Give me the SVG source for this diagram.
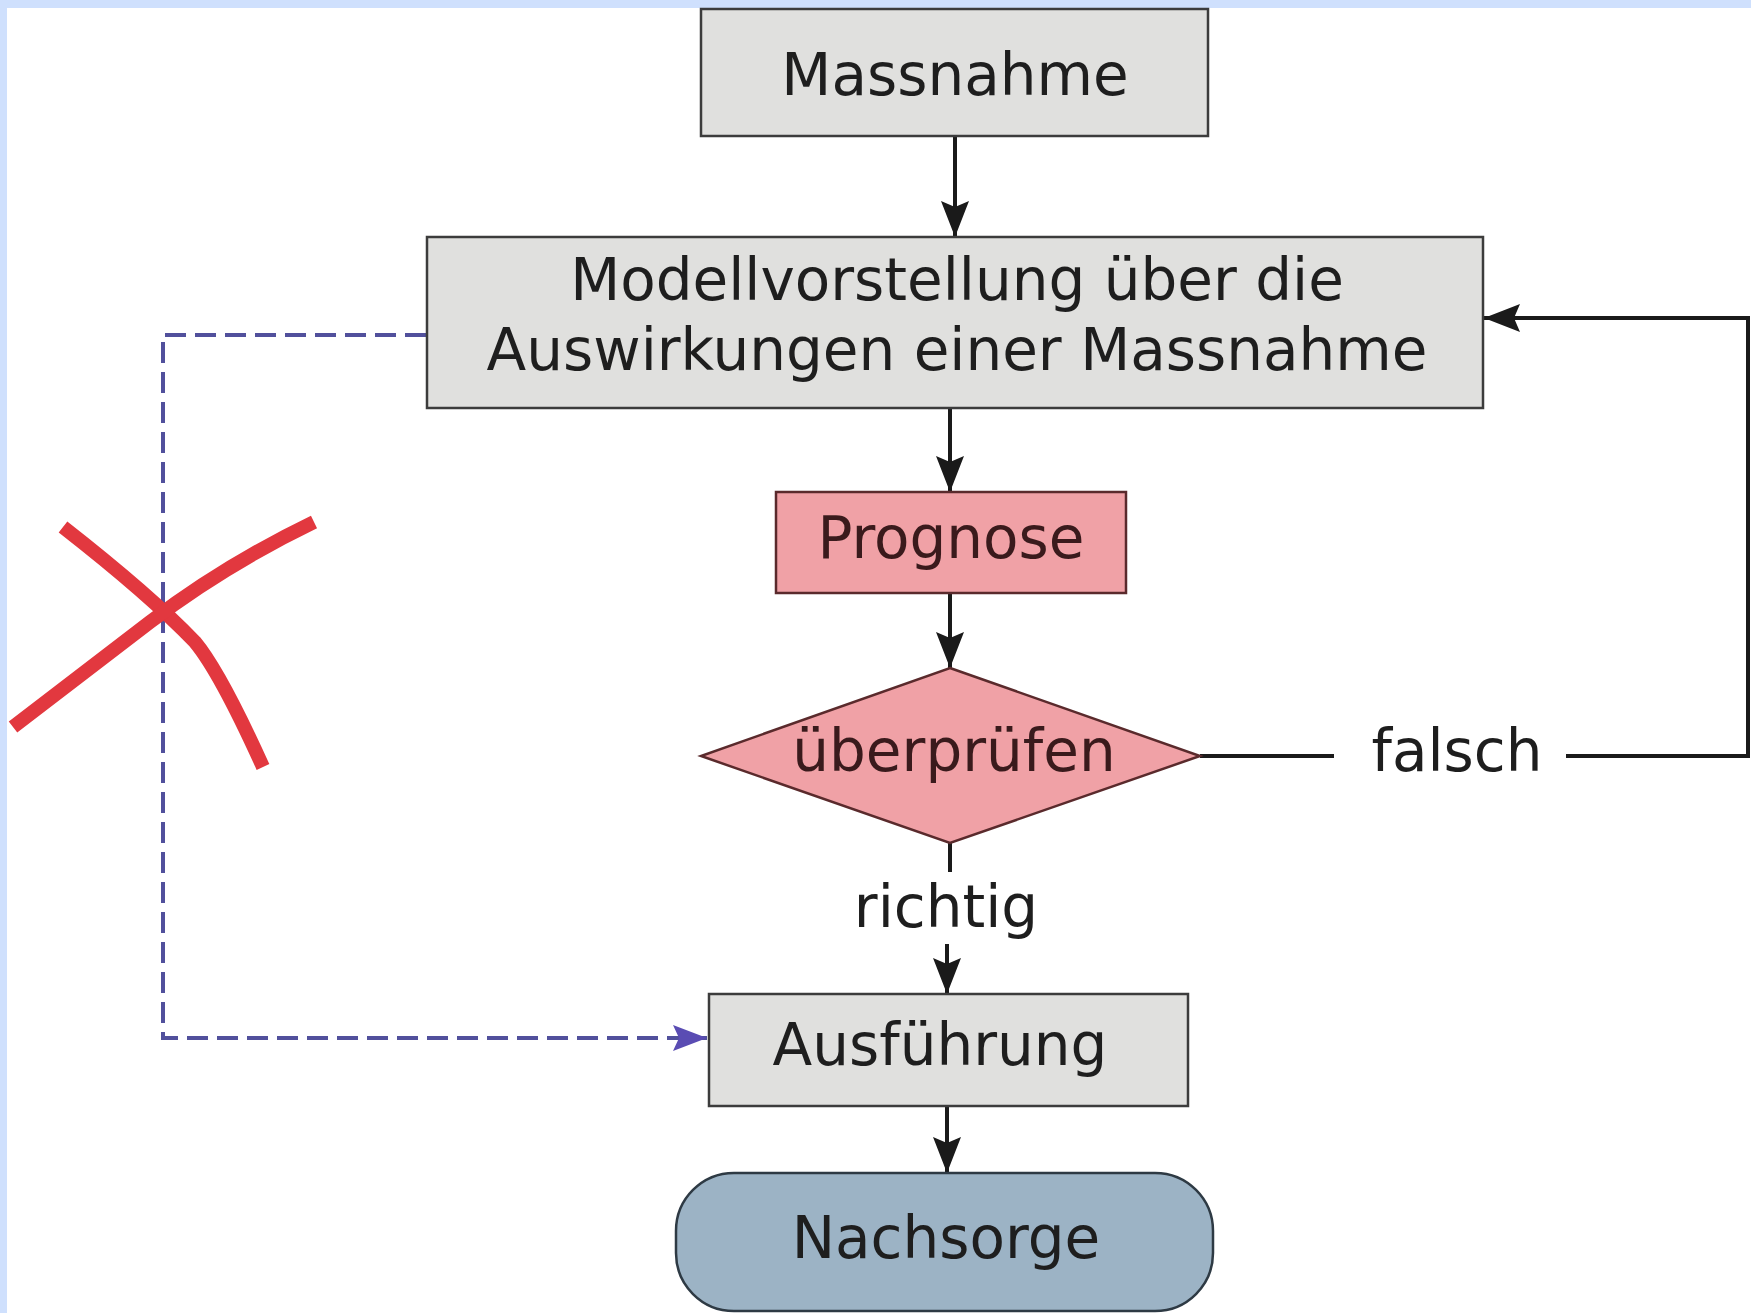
<svg xmlns="http://www.w3.org/2000/svg" width="1751" height="1313" viewBox="0 0 1751 1313">
  <style>
    text { font-family: "DejaVu Sans", "Liberation Sans", sans-serif; font-size: 58px; text-anchor: middle; fill: #1e1e1e; }
    .gray { fill: #e0e0de; stroke: #3c3c3c; stroke-width: 2.5; }
    .pink { fill: #f0a1a6; stroke: #5a2a2c; stroke-width: 2.5; }
    .blue { fill: #9cb3c5; stroke: #2e3a44; stroke-width: 2.5; }
    .pinktext { fill: #3a1a1c; }
    .conn { fill: none; stroke: #1a1a1a; stroke-width: 4; }
    .dash { fill: none; stroke: #51509c; stroke-width: 4; stroke-dasharray: 21 9; }
    .cross { fill: none; stroke: #e2383f; stroke-width: 14; }
  </style>
  <defs>
    <marker id="ah" markerUnits="userSpaceOnUse" markerWidth="38" markerHeight="30" refX="36" refY="14" orient="auto">
      <path d="M0,0 L36,14 L0,28 L6,14 z" fill="#1a1a1a"/>
    </marker>
    <marker id="ahp" markerUnits="userSpaceOnUse" markerWidth="38" markerHeight="30" refX="34" refY="13" orient="auto">
      <path d="M0,0 L34,13 L0,26 L6,13 z" fill="#5a4cb3"/>
    </marker>
  </defs>

  <rect x="0" y="0" width="1751" height="1313" fill="#ffffff"/>
  <rect x="0" y="0" width="1751" height="8" fill="#cfe0fd"/>
  <rect x="0" y="0" width="7" height="1313" fill="#cfe0fd"/>

  <g id="connectors">
    <line class="conn" x1="955" y1="136" x2="955" y2="237" marker-end="url(#ah)"/>
    <line class="conn" x1="950" y1="408" x2="950" y2="492" marker-end="url(#ah)"/>
    <line class="conn" x1="950" y1="593" x2="950" y2="668" marker-end="url(#ah)"/>
    <line class="conn" x1="950" y1="843" x2="950" y2="872"/>
    <line class="conn" x1="947" y1="944" x2="947" y2="994" marker-end="url(#ah)"/>
    <line class="conn" x1="947" y1="1106" x2="947" y2="1173" marker-end="url(#ah)"/>
    <line class="conn" x1="1200" y1="756" x2="1334" y2="756"/>
    <polyline class="conn" points="1566,756 1748,756 1748,318 1484,318" marker-end="url(#ah)"/>
    <polyline class="dash" points="426,335 163,335 163,1038 707,1038" marker-end="url(#ahp)"/>
    <text x="1457" y="771">falsch</text>
    <text x="946" y="927">richtig</text>
  </g>

  <g id="massnahme">
    <rect class="gray" x="701" y="9" width="507" height="127"/>
    <text x="955" y="95">Massnahme</text>
  </g>

  <g id="modellvorstellung">
    <rect class="gray" x="427" y="237" width="1056" height="171"/>
    <text x="957" y="300">Modellvorstellung über die</text>
    <text x="957" y="370">Auswirkungen einer Massnahme</text>
  </g>

  <g id="prognose">
    <rect class="pink" x="776" y="492" width="350" height="101"/>
    <text class="pinktext" x="951" y="558">Prognose</text>
  </g>

  <g id="ueberpruefen">
    <polygon class="pink" points="950,668 1200,756 950,843 701,756"/>
    <text class="pinktext" x="954" y="771">überprüfen</text>
  </g>

  <g id="ausfuehrung">
    <rect class="gray" x="709" y="994" width="479" height="112"/>
    <text x="940" y="1065">Ausführung</text>
  </g>

  <g id="nachsorge">
    <rect class="blue" x="676" y="1173" width="537" height="138" rx="58" ry="58"/>
    <text x="946" y="1258">Nachsorge</text>
  </g>

  <g id="cross">
    <path class="cross" d="M63,527 Q150,595 195,642 Q220,672 263,767"/>
    <path class="cross" d="M13,727 L150,622 Q225,565 314,522"/>
  </g>
</svg>
